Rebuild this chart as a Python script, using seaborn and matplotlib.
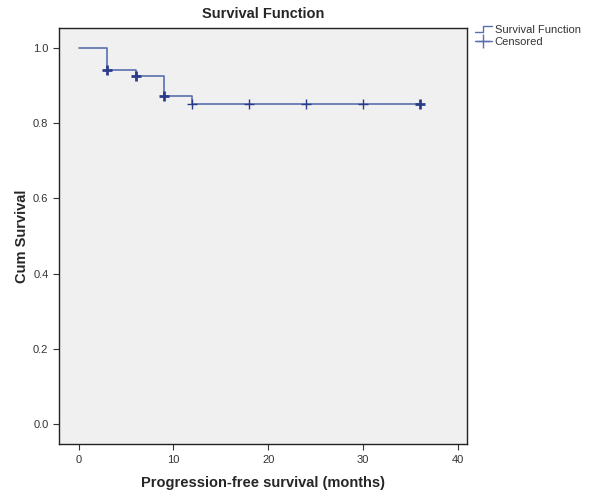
import matplotlib
matplotlib.use("Agg")
import matplotlib.pyplot as plt
import seaborn as sns
import pandas as pd
from matplotlib.lines import Line2D
from matplotlib.legend_handler import HandlerBase

# Step survival curve (time in months, cumulative survival)
step_times = [0, 3, 6, 9, 12, 36]
step_surv = [1.0, 0.941, 0.925, 0.871, 0.851, 0.851]

# Censored observations
cens_times = [3, 6, 9, 12, 18, 24, 30, 36]
cens_surv = [0.941, 0.925, 0.871, 0.851, 0.851, 0.851, 0.851, 0.851]
cens_heavy = [True, True, True, False, False, False, False, True]

x_ticks = [0, 10, 20, 30, 40]
y_ticks = [0.0, 0.2, 0.4, 0.6, 0.8, 1.0]

sns.set_style("white")
plt.rcParams['font.family'] = ['Liberation Sans', 'DejaVu Sans']

fig = plt.figure(figsize=(6.0, 4.99), dpi=100)
ax = fig.add_axes([0.098, 0.110, 0.680, 0.834])
ax.set_facecolor("#f0f0f0")

line_col = "#5a6fae"
mark_col = "#2b3d8a"

df_step = pd.DataFrame({"t": step_times, "s": step_surv})
sns.lineplot(data=df_step, x="t", y="s", ax=ax, drawstyle="steps-post",
             color=line_col, linewidth=1.2, estimator=None)

df_c = pd.DataFrame({"t": cens_times, "s": cens_surv, "h": cens_heavy})
sns.scatterplot(data=df_c[~df_c.h], x="t", y="s", ax=ax, marker="+", s=45,
                color=mark_col, linewidth=1.0, zorder=3)
sns.scatterplot(data=df_c[df_c.h], x="t", y="s", ax=ax, marker="+", s=55,
                color=mark_col, linewidth=2.0, zorder=3)

ax.set_xlim(-2.1, 40.95)
ax.set_ylim(-0.053, 1.053)
ax.set_xticks(x_ticks)
ax.set_xticklabels([str(v) for v in x_ticks])
ax.set_yticks(y_ticks)
ax.set_yticklabels([f"{v:.1f}" for v in y_ticks])
ax.tick_params(axis="both", direction="out", length=4, width=0.8,
               labelsize=8, colors="#333333", left=True, bottom=True)
for sp in ax.spines.values():
    sp.set_color("#222222")
    sp.set_linewidth(1.0)

ax.set_xlabel("Progression-free survival (months)", fontsize=10.5,
              fontweight="bold", labelpad=8)
ax.set_ylabel("Cum Survival", fontsize=10.5, fontweight="bold", labelpad=3)
ax.set_title("Survival Function", fontsize=10.5, fontweight="bold", pad=7)


class StepHandler(HandlerBase):
    def create_artists(self, legend, orig_handle, xdescent, ydescent,
                       width, height, fontsize, trans):
        x0, x1 = -xdescent, -xdescent + width
        xm = x0 + width * 0.5
        yl, yh = -ydescent + height * 0.15, -ydescent + height * 0.9
        ln = Line2D([x0, xm, xm, x1], [yl, yl, yh, yh], color=line_col,
                    lw=1.0, transform=trans)
        return [ln]


step_handle = Line2D([0], [0], color=line_col)
cens_handle = Line2D([0], [0], color=line_col, lw=1.0, marker="+",
                     markersize=10, markeredgewidth=1.0)
leg = ax.legend([step_handle, cens_handle], ["Survival Function", "Censored"],
                handler_map={step_handle: StepHandler()},
                loc="upper left", bbox_to_anchor=(1.0, 1.025), frameon=False,
                fontsize=8, handlelength=1.6, handletextpad=0.2,
                labelspacing=0.15, borderaxespad=0.3)
for t in leg.get_texts():
    t.set_color("#333333")

fig.savefig("out.png", dpi=100, facecolor="white")
